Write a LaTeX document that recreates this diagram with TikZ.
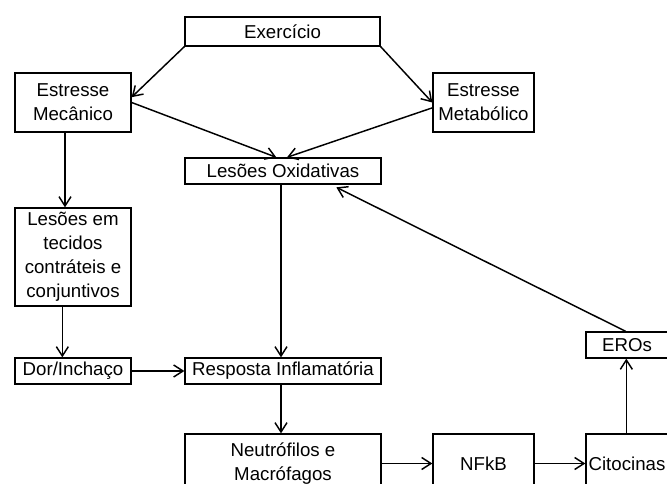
\documentclass[tikz,border=0pt]{standalone}
\usepackage{fontspec}
\setmainfont{Liberation Sans}
\usetikzlibrary{arrows.meta}
\newcommand\pxl{0.75pt}
\tikzset{
  box/.style={draw, line width=1pt, inner sep=0pt, align=center,
    font=\fontsize{14}{18}\selectfont},
  arr/.style={line width=1.1pt, -{Straight Barb[length=7pt,width=9pt,line width=1.1pt]}}
}
\begin{document}
\begin{tikzpicture}[x=0.75pt, y=-0.75pt]
\clip (0,0) rectangle (667,484);
% top row
\node[box, minimum width=195*\pxl, minimum height=29*\pxl] (ex) at (282.5,31.5) {Exerc\'{\i}cio};
\node[box, minimum width=116*\pxl, minimum height=59*\pxl] (mec) at (73,102.5) {Estresse\\Mec\^anico};
\node[box, minimum width=101*\pxl, minimum height=59*\pxl] (met) at (483.5,102.5) {Estresse\\Metab\'olico};
\node[box, minimum width=196*\pxl, minimum height=26*\pxl] (lox) at (283,171) {Les\~oes Oxidativas};
% left column
\node[box, minimum width=116*\pxl, minimum height=98*\pxl] (les) at (73,257) {Les\~oes em\\tecidos\\contr\'ateis e\\conjuntivos};
\node[box, minimum width=116*\pxl, minimum height=26*\pxl] (dor) at (73,371) {Dor/Incha\c{c}o};
\node[box, minimum width=196*\pxl, minimum height=26*\pxl] (resp) at (283,371) {Resposta Inflamat\'oria};
% bottom row
\node[box, minimum width=196*\pxl, minimum height=59*\pxl] (neu) at (283,463.5) {Neutr\'ofilos e\\Macr\'ofagos};
\node[box, minimum width=101*\pxl, minimum height=59*\pxl] (nfk) at (483.5,463.5) {NFkB};
\node[box, minimum width=82*\pxl, minimum height=59*\pxl] (cit) at (627,463.5) {Citocinas};
\node[box, minimum width=82*\pxl, minimum height=26*\pxl] (eros) at (627,345) {EROs};

\draw[arr] (ex.south west) -- ([yshift=4pt]mec.east);
\draw[arr] (ex.south east) -- (met.west);
\draw[arr] (mec.east) -- ([xshift=-5pt]lox.north);
\draw[arr] ([yshift=-4pt]met.west) -- ([xshift=3pt]lox.north);
\draw[arr] ([xshift=-6pt]mec.south) -- ([xshift=-6pt]les.north);
\draw[arr] ([xshift=-8pt]les.south) -- ([xshift=-8pt]dor.north);
\draw[arr] (dor.east) -- (resp.west);
\draw[arr] ([xshift=-1.5pt]lox.south) -- ([xshift=-1.5pt]resp.north);
\draw[arr] ([xshift=-1.5pt]resp.south) -- ([xshift=-1.5pt]neu.north);
\draw[arr] (neu.east) -- (nfk.west);
\draw[arr] (nfk.east) -- (cit.west);
\draw[arr] ([xshift=-0.5pt]cit.north) -- ([xshift=-0.5pt]eros.south);
\draw[arr] ([xshift=-1pt]eros.north) -- ([xshift=40pt,yshift=-2pt]lox.south);
\end{tikzpicture}
\end{document}
